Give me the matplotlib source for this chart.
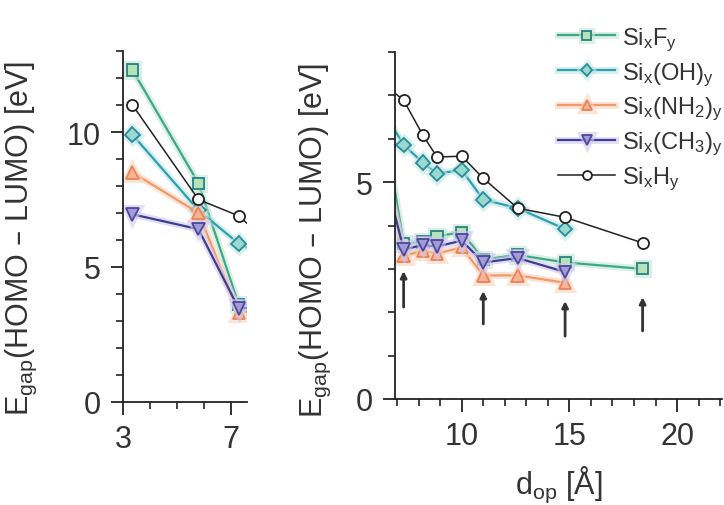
import matplotlib
matplotlib.use('Agg')
import matplotlib.pyplot as plt
import matplotlib.patheffects as pe

plt.rcParams['font.family'] = ['Liberation Sans', 'DejaVu Sans']
plt.rcParams['mathtext.default'] = 'regular'

# plane distance d_op in Angstrom, shared by both panels
d_short = [3.35, 5.8, 7.3]
d_long = [8.2, 8.85, 10.0, 11.0, 12.6, 14.8, 18.4]

# HOMO-LUMO gaps [eV]
gap_F = [12.3, 8.1, 3.59, 3.62, 3.75, 3.85, 3.22, 3.32, 3.15, 3.0]
gap_OH = [9.9, 7.1, 5.86, 5.45, 5.2, 5.28, 4.6, 4.4, 3.92]
gap_NH2 = [8.5, 7.0, 3.3, 3.42, 3.35, 3.5, 2.85, 2.85, 2.68]
gap_CH3 = [6.95, 6.4, 3.45, 3.55, 3.52, 3.65, 3.15, 3.25, 2.93]
gap_H = [11.0, 7.5, 6.89, 6.08, 5.58, 5.6, 5.09, 4.4, 4.19, 3.6]

labels = ['Si$_x$F$_y$', 'Si$_x$(OH)$_y$', 'Si$_x$(NH$_2$)$_y$',
          'Si$_x$(CH$_3$)$_y$', 'Si$_x$H$_y$']

# arrows under selected structures
arrow_x = [7.3, 11.0, 14.8, 18.4]
arrow_y0 = [2.12, 1.73, 1.45, 1.57]
arrow_y1 = [2.95, 2.49, 2.26, 2.35]

d_all = d_short + d_long
series = [
    (gap_F, 's', '#3fa68c', '#b5e3b8', '#2b7f86', '#bfe8d0'),
    (gap_OH, 'D', '#2f9fae', '#9ad9cf', '#2b8b98', '#bde6e6'),
    (gap_NH2, '^', '#f09a6a', '#f6b38f', '#e8845a', '#fad3bd'),
    (gap_CH3, 'v', '#3b3f8f', '#a59ad8', '#4a4a9a', '#d3c8ee'),
    (gap_H, 'o', '#222222', 'white', '#222222', None),
]

fig = plt.figure(figsize=(7.24, 5.06), dpi=100)
ax1 = fig.add_axes([0.170, 0.204, 0.171, 0.693])
ax2 = fig.add_axes([0.5456, 0.2095, 0.452, 0.6855])


def draw(ax):
    handles = []
    for (vals, mk, lc, fc, ec, glow), lab in zip(series, labels):
        xs = d_all[:len(vals)]
        ms = {'s': 8, 'D': 7.5, '^': 9, 'v': 9, 'o': 8}[mk]
        lw = 1.1 if mk == 'o' else 1.6
        effects = []
        if glow:
            effects = [pe.Stroke(linewidth=5, foreground=glow, alpha=0.6), pe.Normal()]
        h, = ax.plot(xs, vals, color=lc, lw=lw, marker=mk, ms=ms, mfc=fc,
                     mec=ec, mew=1.3, label=lab, path_effects=effects)
        handles.append(h)
    for sp in ['top', 'right']:
        ax.spines[sp].set_visible(False)
    for sp in ['left', 'bottom']:
        ax.spines[sp].set_linewidth(1.3)
        ax.spines[sp].set_color('#222222')
    ax.tick_params(which='major', length=9, width=1.3, labelsize=22, pad=7,
                   color='#222222', labelcolor='#333333')
    ax.tick_params(which='minor', length=5, width=1.2, color='#222222')
    ax.set_ylabel('E$_{gap}$(HOMO – LUMO) [eV]', fontsize=22, color='#333333')
    return handles


draw(ax1)
ax1.set_xlim(3, 7.6)
ax1.set_ylim(0, 13)
ax1.set_xticks([3, 7])
ax1.set_xticks([4, 5, 6], minor=True)
ax1.set_yticks([0, 5, 10])
ax1.set_yticks([1, 2, 3, 4, 6, 7, 8, 9, 11, 12, 13], minor=True)
ax1.yaxis.set_label_coords(-0.68, 0.47)

handles = draw(ax2)
ax2.set_xlim(6.9, 22.1)
ax2.set_ylim(0, 8)
ax2.set_xticks([10, 15, 20])
ax2.set_xticks([7, 8, 9, 11, 12, 13, 14, 16, 17, 18, 19, 21, 22], minor=True)
ax2.set_yticks([0, 5])
ax2.set_yticks([1, 2, 3, 4, 6, 7, 8], minor=True)
ax2.yaxis.set_label_coords(-0.19, 0.46)
ax2.set_xlabel('d$_{op}$ [Å]', fontsize=22, color='#333333', labelpad=9)

for x, y0, y1 in zip(arrow_x, arrow_y0, arrow_y1):
    ax2.annotate('', xy=(x, y1), xytext=(x, y0),
                 arrowprops=dict(arrowstyle='-|>', lw=2, color='#333333',
                                 mutation_scale=9, shrinkA=0, shrinkB=0))

leg = ax2.legend(handles=handles, loc='upper left', bbox_to_anchor=(0.47, 1.105),
                 frameon=False, fontsize=17, handlelength=2.4, handletextpad=0.3,
                 labelspacing=0.32, borderaxespad=0, markerscale=0.8)
for t in leg.get_texts():
    t.set_color('#333333')

fig.savefig('out.png', dpi=100, facecolor='white')
